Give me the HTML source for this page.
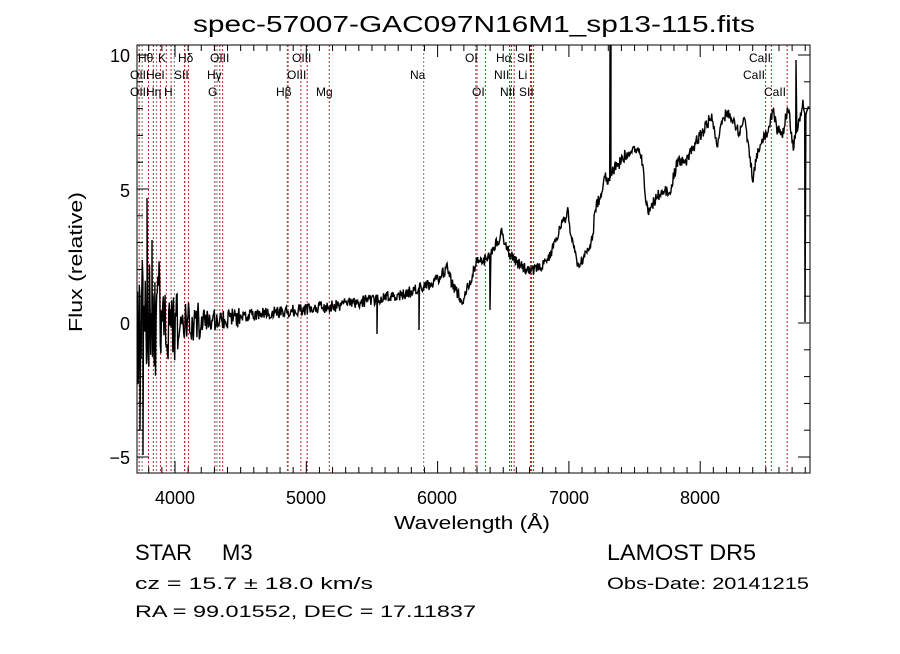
<!DOCTYPE html>
<html><head><meta charset="utf-8"><style>
body{margin:0;background:#fff;}
svg text{font-family:"Liberation Sans",sans-serif;}
</style></head><body>
<svg id="s" width="900" height="649" xmlns="http://www.w3.org/2000/svg">
<rect width="900" height="649" fill="#fff"/>
<text x="193" y="32" font-size="23" textLength="562" lengthAdjust="spacingAndGlyphs">spec-57007-GAC097N16M1_sp13-115.fits</text>
<g id="lines"></g>
<polyline id="spec" fill="none" stroke="#000" stroke-width="1.4"/>
<rect x="137" y="45" width="673" height="428" fill="none" stroke="#000" stroke-width="1"/>
<g id="ticks" stroke="#000" stroke-width="1"></g>
<g font-size="18" text-anchor="middle">
<text x="175" y="504">4000</text><text x="306" y="504">5000</text><text x="437" y="504">6000</text><text x="569" y="504">7000</text><text x="700" y="504">8000</text>
</g>
<g font-size="18" text-anchor="end">
<text x="130" y="62">10</text><text x="130" y="197">5</text><text x="130" y="330">0</text><text x="130" y="464">−5</text>
</g>
<text x="394" y="529" font-size="18" textLength="156" lengthAdjust="spacingAndGlyphs">Wavelength (Å)</text>
<text transform="translate(82,332) rotate(-90)" font-size="18" textLength="140" lengthAdjust="spacingAndGlyphs">Flux (relative)</text>
<g font-size="12" fill="#000">
<text x="138" y="62">Hθ</text><text x="158" y="62">K</text><text x="178" y="62">Hδ</text><text x="210" y="62">OIII</text><text x="292" y="62">OIII</text>
<text x="465" y="62">OI</text><text x="496" y="62">Hα</text><text x="517" y="62">SII</text><text x="749" y="62">CaII</text>
<text x="130" y="79">OII</text><text x="146" y="79">HeI</text><text x="174" y="79">SII</text><text x="207" y="79">Hγ</text><text x="287" y="79">OIII</text>
<text x="494" y="79">NII</text><text x="518" y="79">Li</text><text x="743" y="79">CaII</text>
<text x="130" y="96">OII</text><text x="146" y="96">Hη</text><text x="164" y="96">H</text><text x="208" y="96">G</text><text x="276" y="96">Hβ</text><text x="316" y="96">Mg</text>
<text x="410" y="79">Na</text><text x="472" y="96">OI</text><text x="500" y="96">NII</text><text x="519" y="96">SII</text><text x="764" y="96">CaII</text>
</g>
<g font-size="22">
<text x="135" y="560">STAR</text><text x="222" y="560">M3</text>
<text x="607" y="560" textLength="149" lengthAdjust="spacingAndGlyphs">LAMOST DR5</text>
</g>
<g font-size="17">
<text x="135" y="589" textLength="238" lengthAdjust="spacingAndGlyphs">cz = 15.7 ± 18.0 km/s</text>
<text x="607" y="589" textLength="202" lengthAdjust="spacingAndGlyphs">Obs-Date: 20141215</text>
<text x="135" y="617" textLength="341" lengthAdjust="spacingAndGlyphs">RA =  99.01552, DEC =  17.11837</text>
</g>
</svg>
<script>
var NS="http://www.w3.org/2000/svg";
function X(l){return 175+(l-4000)*0.1313;}
var lg=document.getElementById('lines');
var red=[3727,3798,3835,3889,3934,3970,4072,4102,4304,4341,4363,4861,4959,5007,5175,6300,6364,6548,6563,6583,6707,6716,6731,8498,8542,8662];
var blk=[3750,3860,3995,4075,4320,4855,5894,6290,6550,6712];
function vl(l,c){var e=document.createElementNS(NS,'line');var x=X(l);e.setAttribute('x1',x);e.setAttribute('x2',x);e.setAttribute('y1',45);e.setAttribute('y2',473);e.setAttribute('stroke',c);e.setAttribute('stroke-width','1');e.setAttribute('stroke-dasharray','2,2');lg.appendChild(e);}
blk.forEach(function(l){vl(l,'#777');});red.forEach(function(l){vl(l,'#b22');});
var tg=document.getElementById('ticks');
function tk(x1,y1,x2,y2){var e=document.createElementNS(NS,'line');e.setAttribute('x1',x1);e.setAttribute('y1',y1);e.setAttribute('x2',x2);e.setAttribute('y2',y2);tg.appendChild(e);}
for(var l=3800;l<=8800;l+=100){var x=X(l),L=(l%1000==0)?12:6;tk(x,473,x,473-L);tk(x,45,x,45+L);}
for(var f=-5;f<=10;f+=1){var y=323-f*26.8,L=(f%5==0)?12:6;tk(137,y,137+L,y);tk(810,y,810-L,y);}
var A=[[137,323],[175,322],[200,321],[250,315],[300,310],[340,305],[400,295],[430,285],[440,277],[447,268],[453,287],[463,300],[470,282],[477,260],[483,263],[490,253],[497,243],[502,233],[507,250],[517,263],[527,270],[540,268],[547,263],[553,247],[560,228],[565,222],[568,205],[570,232],[573,240],[578,267],[583,258],[588,253],[593,237],[595,207],[600,197],[605,177],[608,182],[612,170],[620,163],[625,155],[633,150],[638,148],[642,160],[645,190],[648,213],[653,203],[660,193],[670,190],[678,160],[687,160],[697,140],[703,132],[710,118],[713,120],[717,147],[722,120],[728,112],[733,123],[740,133],[745,117],[748,143],[753,180],[757,155],[763,140],[768,133],[773,110],[777,130],[783,133],[788,105],[793,147],[800,120],[803,105],[806,115],[809,108]];
var s=123456789;function r(){s|=0;s=s+0x6D2B79F5|0;var t=Math.imul(s^s>>>15,1|s);t=t+Math.imul(t^t>>>7,61|t)^t;return ((t^t>>>14)>>>0)/4294967296-0.5;}
function base(x){for(var i=0;i<A.length-1;i++){if(x<=A[i+1][0]){var t=(x-A[i][0])/(A[i+1][0]-A[i][0]);return A[i][1]+t*(A[i+1][1]-A[i][1]);}}return A[A.length-1][1];}
var pts=[];
for(var x=137.5;x<809;x+=0.6){var y=base(x);var amp;
if(x<160)amp=130;else if(x<178)amp=80;else if(x<200)amp=40;else if(x<240)amp=22;else if(x<440)amp=12;else amp=12;
y+=r()*amp;
pts.push(x.toFixed(1)+','+y.toFixed(1));
if(Math.abs(x-377)<0.4)pts.push('377,334');if(Math.abs(x-419)<0.4)pts.push('419,330');if(Math.abs(x-490)<0.4)pts.push('490,310');
if(Math.abs(x-610)<0.4){pts.push('610,46');pts.push('611,46');}
if(Math.abs(x-796)<0.4)pts.push('796,60');if(Math.abs(x-805)<0.4)pts.push('805,322');
if(Math.abs(x-143)<0.4)pts.push('143,455');if(Math.abs(x-147)<0.4)pts.push('147,198');
if(Math.abs(x-140)<0.4)pts.push('140,430');if(Math.abs(x-152)<0.4)pts.push('152,240');
}
document.getElementById('spec').setAttribute('points',pts.join(' '));
</script>
</body></html>
